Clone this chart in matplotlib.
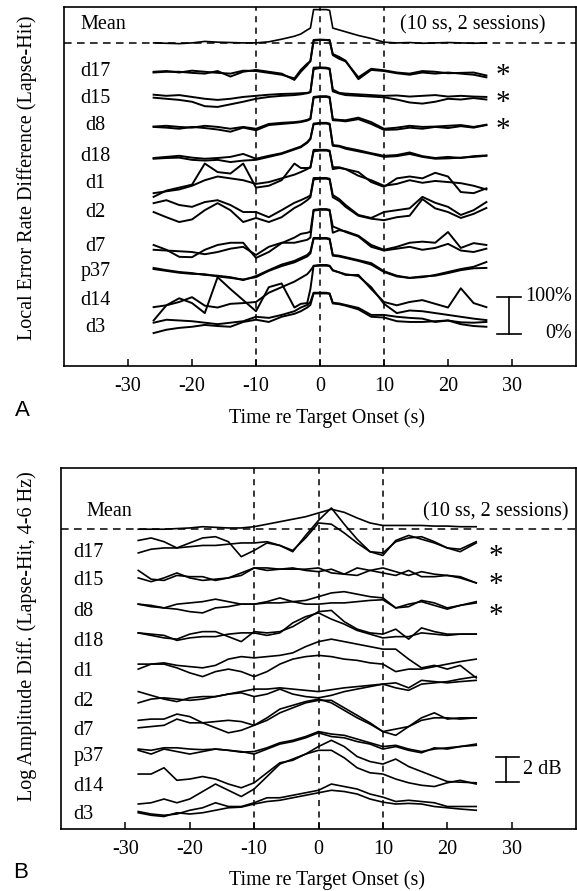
import matplotlib
matplotlib.use("Agg")
import matplotlib.pyplot as plt

plt.rcParams['font.family'] = ['Liberation Serif', 'DejaVu Serif']

ROWS = ['d17', 'd15', 'd8', 'd18', 'd1', 'd2', 'd7', 'p37', 'd14', 'd3']
STARRED = ['d17', 'd15', 'd8']
XTICKS = [-30, -20, -10, 0, 10, 20, 30]

# ---- panel A: local error rate difference (%), two sessions per subject
TIME_A = [-26, -24, -22, -20, -18, -16, -14, -12, -10, -8, -6, -4, -3, -2, -1.5, -1,
          0, 1, 1.5, 2, 3, 4, 6, 8, 10, 12, 14, 16, 18, 20, 22, 24, 26]
mean_a = [0, -1, -2, 0, 4, 2, 1, 0, 0, 3, 10, 18, 24, 35, 40, 90, 90, 90, 88, 40,
          35, 30, 20, 12, 2, 0, 1, -1, 0, 1, 0, -1, 0]
a_d17_s1 = [0, 2, -2, 3, 0, -3, -5, 3, 2, -3, -8, -18, 5, 22, 28, 86, 87, 86, 86, 45,
            35, 28, -15, 8, 4, -2, -5, 2, 0, -4, -3, -2, -10]
a_d17_s2 = [-2, 0, 0, -3, -5, 2, -13, 0, 5, 0, -5, -22, 0, 18, 30, 84, 86, 86, 84, 48,
            40, 30, -20, 5, 2, -4, -8, -2, -5, -2, -5, -8, -15]
a_d15_s1 = [11, 8, 10, 5, 0, -3, 0, 5, 8, 11, 13, 14, 15, 16, 18, 84, 85, 84, 82, 25,
            16, 14, 12, 10, 8, 9, 6, 8, 10, 6, 8, 6, 5]
a_d15_s2 = [3, 0, -3, -8, -20, -22, -15, -8, 0, 5, 8, 10, 12, 15, 18, 80, 83, 82, 80, 20,
            14, 10, 8, 6, 4, -2, -10, -13, -8, 0, -2, 2, -2]
a_d8_s1 = [-2, 0, -3, -5, 0, -3, -8, -3, -8, 5, 8, 10, 12, 16, 20, 78, 80, 80, 78, 18,
           16, 15, 22, 10, -8, -5, 0, -3, -2, 0, 2, -3, 3]
a_d8_s2 = [-3, -5, -8, -3, -6, -10, -16, -5, -12, 2, 5, 8, 10, 14, 18, 76, 78, 78, 76, 15,
           14, 12, 18, 5, -11, -10, -5, -8, -3, -6, -1, -5, 2]
a_d18_s1 = [-3, 0, 3, -2, -5, -3, 0, 8, -5, 3, 10, 22, 28, 40, 50, 90, 92, 92, 90, 32,
            30, 25, 18, 10, 3, 5, 12, 2, -3, 0, -3, 2, 4]
a_d18_s2 = [-5, -3, -2, -8, -10, -8, -14, -10, -8, 0, 8, 20, 26, 38, 48, 88, 90, 90, 88, 30,
            28, 22, 15, 8, 0, 2, 8, 0, -5, -4, -2, 0, 3]
a_d1_s1 = [-35, -18, -10, -2, 55, 32, 28, 55, -10, -5, 10, 55, 43, 43, 44, 92, 92, 92, 90, 40,
           43, 40, 32, 5, -8, 15, 20, 15, 30, 20, -22, -25, -12]
a_d1_s2 = [-25, -20, -15, -5, 10, 20, 15, 10, 0, 5, 15, 25, 32, 40, 45, 88, 90, 90, 88, 45,
           45, 40, 22, 10, -5, 0, 10, 3, 8, 5, 2, -5, -15]
a_d2_s1 = [24, 32, 19, 14, 27, 32, 19, 0, 0, -14, 5, 25, 32, 40, 45, 92, 92, 92, 90, 46,
           35, 19, -8, -16, 0, 5, 10, 41, 25, 14, -8, 5, 27]
a_d2_s2 = [0, -14, -27, -20, 5, 24, 5, -27, -16, -27, -14, 11, 20, 32, 40, 88, 90, 90, 88, 40,
           30, 14, -10, -18, -22, -14, -10, 35, 10, 0, -16, -5, 11]
a_d7_s1 = [5, -8, -27, -28, -8, 5, 11, 11, -30, -14, 10, 25, 35, 38, 41, 100, 102, 102, 100, 38,
           45, 42, 30, 5, -8, 0, 11, 14, 11, 40, -3, 10, 5]
a_d7_s2 = [-8, -10, -12, -14, -20, -14, -5, 0, -22, 0, 11, 11, 15, 19, 25, 98, 100, 100, 98, 55,
           48, 40, 28, 0, -10, -5, 0, -8, -3, 8, -10, -14, -5]
a_p37_s1 = [11, 5, 0, -3, -8, -10, -14, -22, -11, 5, 20, 30, 38, 46, 55, 92, 92, 92, 90, 46,
            44, 40, 32, 24, 2, -10, -16, -14, -8, 0, 8, 14, 27]
a_p37_s2 = [8, 3, -2, -5, -6, -12, -16, -20, -14, 3, 16, 26, 34, 42, 50, 90, 90, 90, 88, 44,
            42, 38, 30, 20, 0, -12, -16, -12, -10, -3, 5, 10, 11]
a_d14_s1 = [-19, -14, 5, -8, -35, 62, 30, 0, -30, 35, 45, -20, -10, -8, 30, 93, 95, 95, 93, 81,
            75, 68, 68, 30, -5, -14, -5, 0, -10, -20, 32, -8, -19]
a_d14_s2 = [-55, -14, -5, 8, -15, -20, -10, -8, -5, 20, 35, 50, 60, 70, 80, 92, 93, 93, 92, 80,
            75, 70, 65, 35, -10, -35, -28, -30, -35, -40, -45, -50, -54]
a_d3_s1 = [14, 22, 20, 18, 14, 10, 14, 18, 30, 27, 35, 45, 55, 62, 70, 95, 95, 95, 93, 68,
           66, 62, 54, 35, 35, 30, 27, 25, 16, 20, 15, 14, 16]
a_d3_s2 = [-14, -5, 0, 3, 8, 5, 3, 16, 22, 16, 30, 38, 45, 55, 62, 93, 93, 93, 92, 66,
           64, 60, 50, 30, 28, 18, 16, 16, 18, 20, 10, 5, 3]

# ---- panel B: log amplitude difference (dB), two sessions per subject
TIME_B = [-28, -26, -24, -22, -20, -18, -16, -14, -12, -10, -8, -6, -4, -2,
          0, 2, 4, 6, 8, 10, 12, 14, 16, 18, 20, 22, 24.5]
mean_b = [0, 0, 0, 0.05, 0.1, 0.2, 0.15, 0.1, 0.1, 0.2, 0.4, 0.6, 0.8, 1.0,
          1.3, 1.6, 1.35, 0.9, 0.5, 0.3, 0.3, 0.3, 0.3, 0.25, 0.25, 0.2, 0.2]
b_d17_s1 = [1.0, 1.2, 0.9, 0.4, 0.8, 1.2, 1.3, 0.9, -0.3, 0.2, 0.8, 0.6, 0.1, 1.4,
            2.6, 3.6, 2.3, 1.1, 0.1, -0.2, 1.0, 1.4, 1.1, 0.8, 0.4, 0.3, 0.9]
b_d17_s2 = [0, 0.3, 0.4, 0.4, 0.5, 0.6, 0.6, 0.7, 0.8, 0.8, 0.9, 0.6, 0.2, 1.2,
            2.4, 2.3, 1.6, 0.8, 0.1, 0.0, 0.9, 1.2, 1.3, 0.9, 0.4, 0.1, 0.8]
b_d15_s1 = [0.8, 0.1, 0.0, 0.4, 0.3, 0.3, 0.0, 0.2, 0.6, 1.0, 1.0, 0.9, 0.9, 0.9,
            1.0, 0.6, 0.5, 1.0, 0.8, 0.6, 0.4, 0.8, 0.3, 0.3, 0.4, 0.3, -0.2]
b_d15_s2 = [0.2, -0.1, 0.2, 0.6, 0.2, 0.0, 0.1, 0.2, 0.4, 1.0, 0.8, 0.9, 1.0, 0.8,
            0.7, 0.9, 0.5, 0.4, 0.8, 1.0, 0.7, 0.4, 0.7, 0.5, 0.4, 0.2, -0.2]
b_d8_s1 = [0.6, 0.5, 0.3, 0.6, 0.7, 0.8, 1.0, 0.8, 0.6, 0.6, 0.8, 1.1, 0.8, 0.9,
           1.2, 1.5, 1.6, 1.4, 1.2, 1.1, 0.3, 0.4, 0.9, 0.7, 0.3, 0.5, 0.8]
b_d8_s2 = [0.6, 0.4, 0.3, 0.2, 0.0, -0.1, 0.3, 0.4, 0.6, 0.6, 0.7, 0.7, 0.8, 0.6,
           0.6, 0.7, 0.7, 0.8, 0.9, 0.95, 0.3, 0.6, 0.8, 0.5, 0.2, 0.5, 0.7]
b_d18_s1 = [0.7, 0.5, 0.3, 0.2, 0.6, 0.8, 0.8, 0.4, 0.0, 0.8, 0.7, 0.8, 1.2, 1.8,
            2.4, 2.5, 1.6, 1.0, 0.7, 0.6, 1.0, 0.2, 1.1, 0.8, 0.6, 0.6, 0.6]
b_d18_s2 = [0.7, 0.6, 0.5, 0.1, 0.3, 0.4, 0.4, 0.6, 0.7, 0.7, 0.5, 0.7, 1.5, 2.0,
            2.3, 1.8, 1.4, 0.9, 0.6, 0.3, 0.4, 0.4, 0.7, 0.6, 0.5, 0.6, 0.6]
b_d1_s1 = [0.6, 0.6, 0.7, 0.5, 0.4, 0.3, 0.5, 1.0, 1.2, 1.1, 1.2, 1.3, 1.5, 2.0,
           2.4, 2.6, 2.4, 2.2, 2.0, 1.8, 1.8, 1.0, 0.3, 0.5, 0.2, 0.5, -0.5]
b_d1_s2 = [0.2, 0.6, 0.6, 0.3, -0.1, -0.4, 0.0, 0.2, 0.0, -0.4, 0.0, 0.6, 1.0, 1.2,
           1.3, 1.2, 1.0, 0.9, 0.7, 0.6, 0.0, 0.2, 0.2, 0.4, 0.6, 0.8, 1.0]
b_d2_s1 = [0.8, 0.5, 0.2, 0.0, 0.3, 0.4, 0.4, 0.6, 0.8, 1.0, 1.0, 1.1, 1.0, 0.9,
           0.8, 0.95, 1.1, 1.2, 1.3, 1.4, 1.5, 1.1, 1.7, 1.6, 1.5, 1.6, 1.7]
b_d2_s2 = [-0.1, 0.2, 0.3, 0.2, 0.1, 0.2, 0.4, 0.6, 0.7, 0.4, 0.6, 1.0, 0.6, 0.4,
           0.3, 0.5, 0.8, 1.0, 1.2, 1.4, 1.1, 0.9, 1.4, 1.5, 1.6, 1.8, 2.0]
b_d7_s1 = [0.8, 0.9, 0.9, 1.3, 1.1, 0.6, 0.2, -0.2, 0.0, 0.4, 0.8, 1.4, 1.8, 2.2,
           2.4, 2.4, 1.8, 1.2, 0.6, -0.1, -0.4, 0.3, 1.0, 1.4, 0.9, 1.0, 1.0]
b_d7_s2 = [0.2, 0.3, 0.4, 0.9, 0.6, 0.6, 0.7, 0.8, 0.7, 0.4, 1.0, 1.7, 2.0, 2.3,
           2.5, 2.2, 1.6, 1.0, 0.5, -0.1, 0.1, 0.3, 0.8, 1.0, 1.0, 0.9, 1.0]
b_p37_s1 = [0.6, 0.5, 0.7, 0.7, 0.6, 0.55, 0.6, 0.5, 0.35, 0.4, 0.7, 1.1, 1.3, 1.6,
            2.0, 1.8, 1.7, 1.4, 1.1, 0.8, 0.9, 0.6, 0.4, 0.6, 0.7, 0.8, 1.0]
b_p37_s2 = [0.5, 0.2, 0.6, 0.4, 0.2, 0.4, 0.6, 0.5, 0.4, 0.2, 0.6, 1.0, 1.2, 1.5,
            1.9, 1.6, 1.5, 1.2, 1.0, 0.6, 0.8, 0.5, 0.3, 0.7, 0.6, 0.8, 0.9]
b_d14_s1 = [1.0, 1.0, 1.5, 0.5, 0.6, 0.8, 0.6, 0.2, -0.1, 0.3, 1.1, 1.9, 2.1, 2.6,
            3.2, 3.7, 3.2, 2.4, 2.0, 1.8, 2.2, 1.6, 1.2, 0.8, 0.4, 0.35, 0.3]
b_d14_s2 = [-1.4, -1.3, -1.0, -1.3, -1.0, -0.4, 0.2, -0.3, -0.8, -0.2, 0.8, 1.8, 2.2, 2.6,
            2.9, 2.9, 2.3, 1.5, 1.1, 1.0, 0.6, 0.3, 0.1, 0.0, 0.3, 0.5, 0.2]
b_d3_s1 = [0.2, 0.0, -0.1, 0.0, 0.3, 0.5, 0.9, 0.6, 0.6, 0.9, 1.3, 1.3, 1.5, 1.7,
           1.9, 2.4, 2.2, 2.0, 1.6, 1.35, 1.0, 1.1, 1.0, 0.9, 0.6, 0.6, 0.6]
b_d3_s2 = [0.1, -0.1, -0.2, 0.1, 0.0, 0.1, 0.3, 0.5, 0.55, 0.8, 1.0, 1.1, 1.3, 1.5,
           1.7, 1.9, 1.8, 1.6, 1.2, 0.95, 0.8, 0.85, 0.8, 0.6, 0.5, 0.4, 0.3]

A_TRACES = [(a_d17_s1, a_d17_s2), (a_d15_s1, a_d15_s2), (a_d8_s1, a_d8_s2),
            (a_d18_s1, a_d18_s2), (a_d1_s1, a_d1_s2), (a_d2_s1, a_d2_s2),
            (a_d7_s1, a_d7_s2), (a_p37_s1, a_p37_s2), (a_d14_s1, a_d14_s2),
            (a_d3_s1, a_d3_s2)]
B_TRACES = [(b_d17_s1, b_d17_s2), (b_d15_s1, b_d15_s2), (b_d8_s1, b_d8_s2),
            (b_d18_s1, b_d18_s2), (b_d1_s1, b_d1_s2), (b_d2_s1, b_d2_s2),
            (b_d7_s1, b_d7_s2), (b_p37_s1, b_p37_s2), (b_d14_s1, b_d14_s2),
            (b_d3_s1, b_d3_s2)]

# vertical stacking of the rows (layout, in each panel's own units)
A_ROW_Y = [795, 722, 649, 565, 492, 416, 322, 254, 178, 103]
A_MEAN_Y = 873
A_TOP = 970
B_ROW_Y = [22.1, 19.9, 17.4, 15.0, 12.6, 10.2, 7.9, 5.8, 3.4, 1.2]
B_MEAN_Y = 24.0
B_TOP = 28.9

FS = 14.5
STAR_FS = 21
W, H = 577, 891
fig = plt.figure(figsize=(W / 100, H / 100), dpi=100)


def px_rect(left, top, right, bottom):
    return [left / W, 1 - bottom / H, (right - left) / W, (bottom - top) / H]


def setup(ax, top):
    ax.set_xlim(-40, 40)
    ax.set_ylim(0, top)
    ax.set_yticks([])
    ax.set_xticks(XTICKS)
    ax.set_xticklabels([str(t) for t in XTICKS], fontsize=FS)
    ax.tick_params(axis='x', direction='in', length=5, width=1.1, pad=8)
    for s in ax.spines.values():
        s.set_linewidth(1.2)
    for xv in (-10, 0, 10):
        ax.axvline(xv, color='black', lw=1.1, dashes=(4, 3.5), zorder=1)


# ---------------- panel A
axA = fig.add_axes(px_rect(64, 7, 576, 366))
setup(axA, A_TOP)
axA.axhline(A_MEAN_Y, color='black', lw=1.1, dashes=(5, 3.5))
axA.plot(TIME_A, [A_MEAN_Y + v for v in mean_a], color='black', lw=1.2)
for name, y0, (s1, s2) in zip(ROWS, A_ROW_Y, A_TRACES):
    axA.plot(TIME_A, [y0 + v for v in s1], color='black', lw=1.4)
    axA.plot(TIME_A, [y0 + v for v in s2], color='black', lw=1.4)
    axA.text(-35.1, y0, name, ha='center', va='center', fontsize=FS)
    if name in STARRED:
        axA.text(28.5, y0 - 12, '*', ha='center', va='center', fontsize=STAR_FS)
axA.text(-37.5, 922, 'Mean', ha='left', va='center', fontsize=FS)
axA.text(35.3, 922, '(10 ss, 2 sessions)', ha='right', va='center', fontsize=FS)
# 100% scale bar
axA.plot([29.5, 29.5], [86.5, 186.5], color='black', lw=1.2)
axA.plot([27.7, 31.4], [186.5, 186.5], color='black', lw=1.2)
axA.plot([27.7, 31.4], [86.5, 86.5], color='black', lw=1.2)
axA.text(39.4, 186.5, '100%', ha='right', va='center', fontsize=FS)
axA.text(39.4, 86.5, '0%', ha='right', va='center', fontsize=FS)

# ---------------- panel B
axB = fig.add_axes(px_rect(61, 468, 576, 829))
setup(axB, B_TOP)
axB.axhline(B_MEAN_Y, color='black', lw=1.1, dashes=(5, 3.5))
axB.plot(TIME_B, [B_MEAN_Y + v for v in mean_b], color='black', lw=1.2)
for name, y0, (s1, s2) in zip(ROWS, B_ROW_Y, B_TRACES):
    axB.plot(TIME_B, [y0 + v for v in s1], color='black', lw=1.2)
    axB.plot(TIME_B, [y0 + v for v in s2], color='black', lw=1.2)
    axB.text(-38.1, y0, name, ha='left', va='center', fontsize=FS)
    if name in STARRED:
        axB.text(27.5, y0 - 0.35, '*', ha='center', va='center', fontsize=STAR_FS)
axB.text(-36.1, 25.4, 'Mean', ha='left', va='center', fontsize=FS)
axB.text(38.9, 25.4, '(10 ss, 2 sessions)', ha='right', va='center', fontsize=FS)
# 2 dB scale bar
axB.plot([29.2, 29.2], [3.76, 5.76], color='black', lw=1.2)
axB.plot([27.5, 31.1], [5.76, 5.76], color='black', lw=1.2)
axB.plot([27.5, 31.1], [3.76, 3.76], color='black', lw=1.2)
axB.text(31.7, 4.76, '2 dB', ha='left', va='center', fontsize=FS)

# axis titles and panel letters
fig.text(27 / W, 1 - 178 / H, 'Local Error Rate Difference (Lapse-Hit)',
         rotation=90, ha='center', va='center', fontsize=FS)
fig.text(27 / W, 1 - 636 / H, 'Log Amplitude Diff. (Lapse-Hit, 4-6 Hz)',
         rotation=90, ha='center', va='center', fontsize=FS)
fig.text(327 / W, 1 - 418 / H, 'Time re Target Onset (s)', ha='center', va='center', fontsize=FS)
fig.text(327 / W, 1 - 880 / H, 'Time re Target Onset (s)', ha='center', va='center', fontsize=FS)
fig.text(22 / W, 1 - 410 / H, 'A', ha='center', va='center', fontsize=16, family='Liberation Sans')
fig.text(21 / W, 1 - 872 / H, 'B', ha='center', va='center', fontsize=16, family='Liberation Sans')

fig.savefig('out.png', dpi=100, facecolor='white')
